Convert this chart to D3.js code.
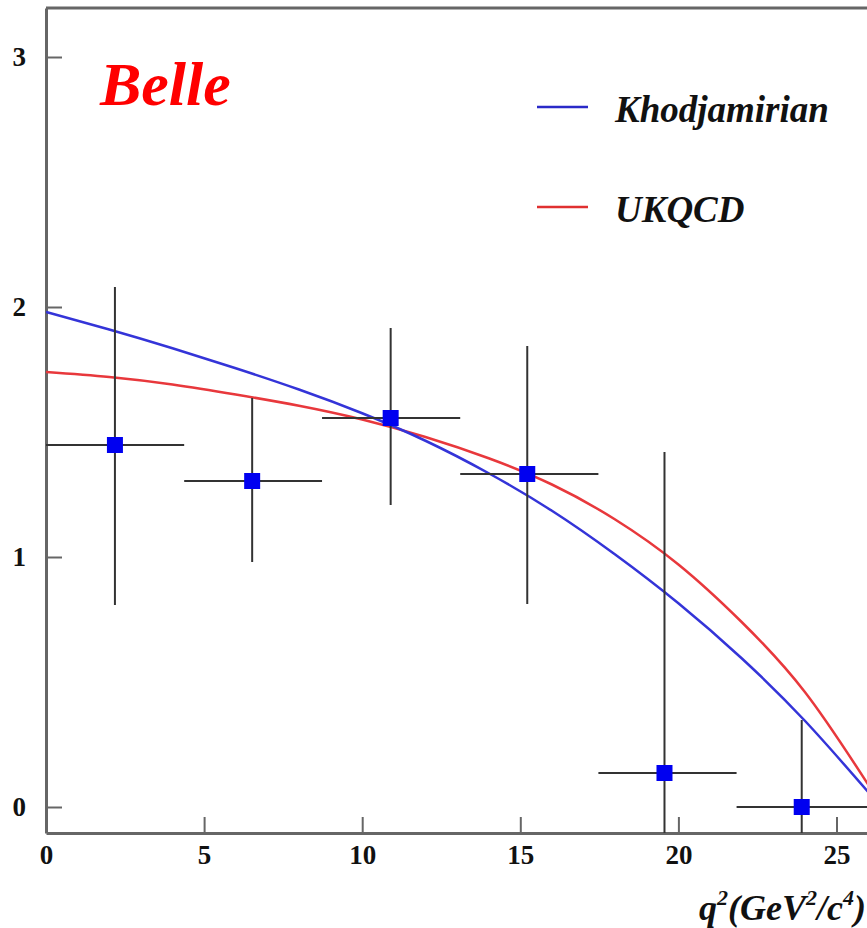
<!DOCTYPE html>
<html>
<head>
<meta charset="utf-8">
<script src="https://cdn.jsdelivr.net/npm/d3@7"></script>
<style>
  body { margin: 0; background: #fff; }
  svg { display: block; font-family: "Liberation Serif", "DejaVu Serif", serif; }
  .axis text { font-family: "Liberation Serif", "DejaVu Serif", serif; font-size: 27px; font-weight: bold; fill: #111; }
  .axis .domain { stroke: #666; stroke-width: 3; }
  .axis .tick line { stroke: #666; stroke-width: 2; }
</style>
</head>
<body>
<div id="chart"></div>
<script>
// measured points (q2 bin centre, value, bin edges, error bar ends)
var q2Center = [2.18, 6.52, 10.9, 15.22, 19.56, 23.9];
var q2Low    = [0.0, 4.37, 8.73, 13.1, 17.47, 21.84];
var q2High   = [4.37, 8.73, 13.1, 17.47, 21.84, 26.2];
var value    = [1.448, 1.304, 1.556, 1.332, 0.136, 0.0];
var errLow   = [0.808, 0.98, 1.208, 0.812, -1.15, -0.35];
var errHigh  = [2.08, 1.636, 1.916, 1.844, 1.42, 0.348];

// theory curves
var curveQ2   = [0, 2, 4, 6, 8, 10, 12, 14, 16, 18, 20, 22, 24, 26];
var khodjamirian = [1.98, 1.91, 1.835, 1.755, 1.67, 1.575, 1.465, 1.335, 1.185, 1.01, 0.815, 0.595, 0.345, 0.06];
var ukqcd        = [1.74, 1.72, 1.69, 1.65, 1.605, 1.55, 1.48, 1.395, 1.29, 1.15, 0.97, 0.74, 0.46, 0.09];

var xTicks = [0, 5, 10, 15, 20, 25];
var yTicks = [0, 1, 2, 3];

var width = 867, height = 928;
var plotLeft = 46, plotTop = 8, plotBottom = 833;
var xMax = 26.4;

var svg = d3.select("#chart").append("svg")
    .attr("width", width)
    .attr("height", height);

var x = d3.scaleLinear().domain([0, xMax]).range([plotLeft, plotLeft + xMax * 31.62]);
var y = d3.scaleLinear().domain([-0.104, 3.196]).range([plotBottom, plotTop]);

svg.append("defs").append("clipPath").attr("id", "plot")
  .append("rect")
    .attr("x", plotLeft).attr("y", plotTop)
    .attr("width", x(xMax) - plotLeft).attr("height", plotBottom - plotTop);

// top frame
svg.append("line")
    .attr("x1", plotLeft).attr("x2", x(xMax))
    .attr("y1", plotTop).attr("y2", plotTop)
    .attr("stroke", "#666").attr("stroke-width", 3);

var gx = svg.append("g")
    .attr("class", "axis")
    .attr("transform", "translate(0," + plotBottom + ")")
    .call(d3.axisBottom(x).tickValues(xTicks).tickFormat(d3.format("d"))
      .tickSizeInner(-16).tickSizeOuter(0).tickPadding(12));

var gy = svg.append("g")
    .attr("class", "axis")
    .attr("transform", "translate(" + plotLeft + ",0)")
    .call(d3.axisLeft(y).tickValues(yTicks).tickFormat(d3.format("d"))
      .tickSizeInner(-16).tickSizeOuter(0).tickPadding(20));

var plot = svg.append("g").attr("clip-path", "url(#plot)");

var line = d3.line()
    .x(function(d) { return x(d[0]); })
    .y(function(d) { return y(d[1]); })
    .curve(d3.curveNatural);

plot.append("path")
    .datum(d3.zip(curveQ2, ukqcd))
    .attr("d", line)
    .attr("fill", "none")
    .attr("stroke", "#e8383c")
    .attr("stroke-width", 2.5);

plot.append("path")
    .datum(d3.zip(curveQ2, khodjamirian))
    .attr("d", line)
    .attr("fill", "none")
    .attr("stroke", "#3434d8")
    .attr("stroke-width", 2.5);

var points = q2Center.map(function(c, i) {
  return { x: c, lo: q2Low[i], hi: q2High[i], v: value[i], eLo: errLow[i], eHi: errHigh[i] };
});

plot.selectAll("line.hbar")
    .data(points).enter().append("line")
    .attr("class", "hbar")
    .attr("x1", function(d) { return x(d.lo); })
    .attr("x2", function(d) { return x(d.hi); })
    .attr("y1", function(d) { return y(d.v); })
    .attr("y2", function(d) { return y(d.v); })
    .attr("stroke", "#333").attr("stroke-width", 2);

plot.selectAll("line.vbar")
    .data(points).enter().append("line")
    .attr("class", "vbar")
    .attr("x1", function(d) { return x(d.x); })
    .attr("x2", function(d) { return x(d.x); })
    .attr("y1", function(d) { return y(d.eLo); })
    .attr("y2", function(d) { return y(d.eHi); })
    .attr("stroke", "#333").attr("stroke-width", 2);

plot.selectAll("rect.pt")
    .data(points).enter().append("rect")
    .attr("class", "pt")
    .attr("x", function(d) { return x(d.x) - 8; })
    .attr("y", function(d) { return y(d.v) - 8; })
    .attr("width", 16).attr("height", 16)
    .attr("fill", "#0000f0");

// Belle label
svg.append("text")
    .attr("x", 100).attr("y", 105)
    .attr("font-size", 62).attr("font-weight", "bold").attr("font-style", "italic")
    .attr("fill", "#ff0000")
    .text("Belle");

// legend
var legend = [
  { name: "Khodjamirian", color: "#2a2ac8", y: 107 },
  { name: "UKQCD", color: "#e03030", y: 207 }
];
var lg = svg.selectAll("g.legend").data(legend).enter().append("g").attr("class", "legend");
lg.append("line")
    .attr("x1", 537).attr("x2", 588)
    .attr("y1", function(d) { return d.y; }).attr("y2", function(d) { return d.y; })
    .attr("stroke", function(d) { return d.color; }).attr("stroke-width", 2.5);
lg.append("text")
    .attr("x", 615).attr("y", function(d) { return d.y + 15; })
    .attr("font-size", 37).attr("font-weight", "bold").attr("font-style", "italic")
    .attr("fill", "#111")
    .text(function(d) { return d.name; });

// x axis title
var title = svg.append("text")
    .attr("x", 866).attr("y", 920)
    .attr("text-anchor", "end")
    .attr("font-size", 36).attr("font-weight", "bold").attr("font-style", "italic")
    .attr("fill", "#111");
title.append("tspan").text("q");
title.append("tspan").attr("dy", -15).attr("font-size", 22).text("2");
title.append("tspan").attr("dy", 15).text("(GeV");
title.append("tspan").attr("dy", -15).attr("font-size", 22).text("2");
title.append("tspan").attr("dy", 15).text("/c");
title.append("tspan").attr("dy", -15).attr("font-size", 22).text("4");
title.append("tspan").attr("dy", 15).text(")");
</script>
</body>
</html>
